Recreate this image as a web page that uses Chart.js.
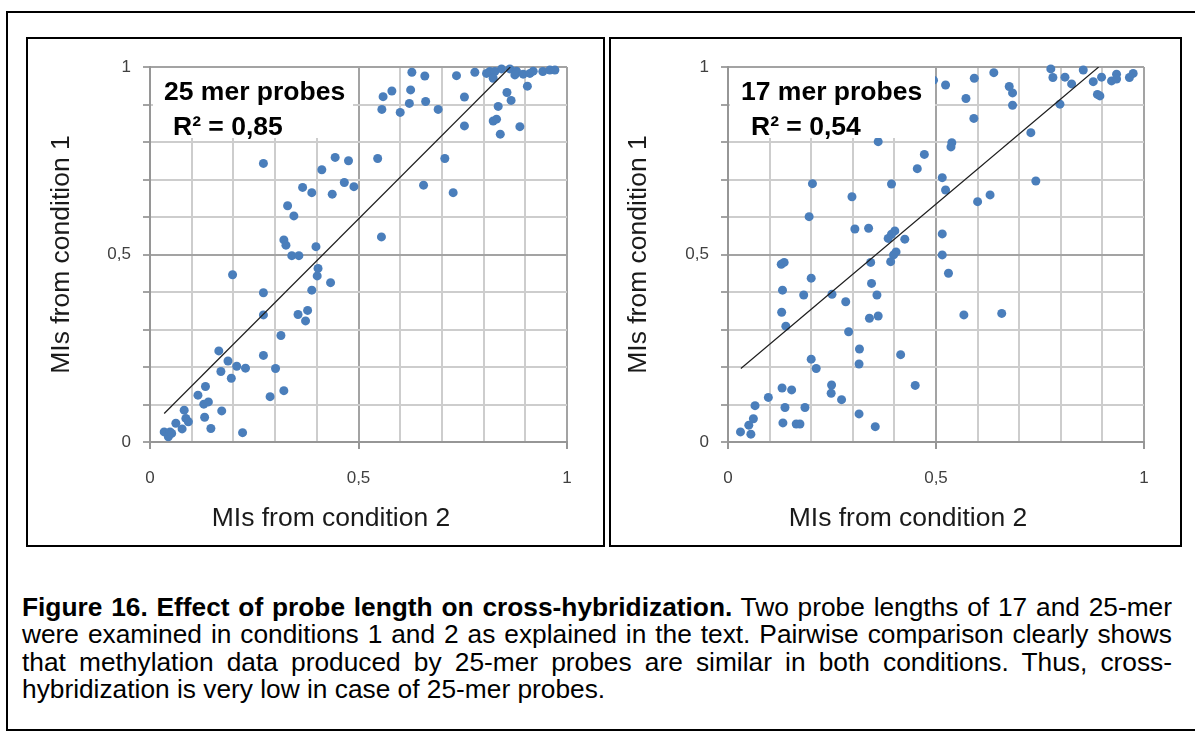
<!DOCTYPE html>
<html>
<head>
<meta charset="utf-8">
<script src="https://cdn.jsdelivr.net/npm/chart.js@4.4.1/dist/chart.umd.min.js"></script>
<style>
  html, body { margin: 0; padding: 0; background: #fff; }
  body { width: 1195px; height: 738px; position: relative; overflow: hidden;
         font-family: 'Liberation Sans', Arial, sans-serif; color: #000; }
  .frame { position: absolute; left: 6px; top: 11px; width: 1200px; height: 720px;
           border: 2px solid #000; box-sizing: border-box; }
  .box { position: absolute; top: 37px; height: 510px; border: 2px solid #000; box-sizing: border-box; }
  .box canvas { position: absolute; left: 0; top: 0; }
  .tag { position: absolute; top: 68px; height: 70px; width: 200px; background: #fff;
         font-weight: bold; font-size: 26.5px; line-height: 35px; padding-top: 6px; box-sizing: border-box; }
  .tag div { white-space: nowrap; }
  .caption { position: absolute; left: 22px; top: 594px; width: 1150px; font-size: 26.3px; line-height: 27.3px; }
  .caption .j { text-align: justify; text-align-last: justify; }
  .caption div { white-space: nowrap; }
  .caption .j { white-space: normal; }
</style>
</head>
<body>
<div class="frame"></div>
<div class="box" style="left:26px;width:579px;"><canvas id="c25" width="575" height="506"></canvas></div>
<div class="box" style="left:609px;width:573px;"><canvas id="c17" width="569" height="506"></canvas></div>

<div class="tag" style="left:153px;"><div style="padding-left:11px">25 mer probes</div><div style="padding-left:20px">R² = 0,85</div></div>
<div class="tag" style="left:730px;width:205px;"><div style="padding-left:11px">17 mer probes</div><div style="padding-left:21px">R² = 0,54</div></div>

<div class="caption">
  <div class="j"><b>Figure 16. Effect of probe length on cross-hybridization.</b> Two probe lengths of 17 and 25-mer</div>
  <div class="j">were examined in conditions 1 and 2 as explained in the text. Pairwise comparison clearly shows</div>
  <div class="j">that methylation data produced by 25-mer probes are similar in both conditions. Thus, cross-</div>
  <div>hybridization is very low in case of 25-mer probes.</div>
</div>

<script>
// 25-mer probes: MIs condition 2 (x) vs condition 1 (y)
var x25 = [0.408, 0.272, 0.444, 0.476, 0.412, 0.466, 0.489, 0.366, 0.388, 0.437,
           0.330, 0.345, 0.321, 0.326, 0.398, 0.340, 0.357, 0.198, 0.403, 0.401,
           0.433, 0.272, 0.388, 0.272, 0.355, 0.378, 0.373, 0.314, 0.165, 0.187,
           0.208, 0.229, 0.170, 0.195, 0.272, 0.301, 0.288, 0.321, 0.133, 0.115,
           0.129, 0.140, 0.082, 0.172, 0.131, 0.086, 0.092, 0.062, 0.077, 0.146,
           0.222, 0.034, 0.048, 0.044, 0.052, 0.628, 0.659, 0.735, 0.779, 0.807,
           0.815, 0.827, 0.843, 0.863, 0.879, 0.875, 0.895, 0.911, 0.919, 0.942,
           0.959, 0.971, 0.823, 0.905, 0.559, 0.580, 0.625, 0.622, 0.661, 0.556,
           0.600, 0.691, 0.754, 0.856, 0.866, 0.835, 0.823, 0.831, 0.840, 0.887,
           0.754, 0.546, 0.707, 0.656, 0.727, 0.555];
var y25 = [0.874, 0.743, 0.759, 0.750, 0.726, 0.692, 0.681, 0.679, 0.665, 0.661,
           0.630, 0.603, 0.539, 0.525, 0.521, 0.497, 0.497, 0.446, 0.463, 0.443,
           0.425, 0.398, 0.405, 0.339, 0.340, 0.351, 0.323, 0.284, 0.243, 0.216,
           0.202, 0.197, 0.188, 0.170, 0.231, 0.196, 0.121, 0.137, 0.148, 0.125,
           0.101, 0.107, 0.085, 0.083, 0.066, 0.063, 0.054, 0.050, 0.035, 0.036,
           0.025, 0.027, 0.027, 0.014, 0.023, 0.986, 0.976, 0.977, 0.986, 0.983,
           0.988, 0.988, 0.995, 0.995, 0.989, 0.979, 0.981, 0.983, 0.989, 0.988,
           0.992, 0.992, 0.970, 0.949, 0.921, 0.936, 0.939, 0.903, 0.908, 0.887,
           0.879, 0.887, 0.920, 0.932, 0.911, 0.895, 0.856, 0.861, 0.821, 0.841,
           0.843, 0.756, 0.756, 0.685, 0.665, 0.547];

// 17-mer probes
var x17 = [0.494, 0.345, 0.361, 0.472, 0.455, 0.203, 0.393, 0.298, 0.195, 0.305,
           0.338, 0.401, 0.393, 0.385, 0.425, 0.404, 0.523, 0.592, 0.639, 0.676,
           0.684, 0.572, 0.684, 0.591, 0.776, 0.781, 0.810, 0.826, 0.854, 0.878,
           0.898, 0.922, 0.934, 0.934, 0.965, 0.974, 0.888, 0.894, 0.798, 0.728,
           0.538, 0.536, 0.515, 0.523, 0.600, 0.630, 0.740, 0.515, 0.515, 0.530,
           0.567, 0.658, 0.398, 0.391, 0.128, 0.135, 0.200, 0.343, 0.345, 0.358,
           0.131, 0.182, 0.250, 0.283, 0.129, 0.139, 0.340, 0.361, 0.290, 0.316,
           0.315, 0.200, 0.212, 0.415, 0.450, 0.130, 0.153, 0.097, 0.249, 0.248,
           0.273, 0.065, 0.137, 0.185, 0.315, 0.061, 0.050, 0.132, 0.164, 0.173,
           0.354, 0.030, 0.055];
var y17 = [0.965, 0.829, 0.801, 0.767, 0.729, 0.689, 0.688, 0.654, 0.601, 0.568,
           0.570, 0.563, 0.554, 0.543, 0.541, 0.507, 0.952, 0.970, 0.985, 0.948,
           0.931, 0.916, 0.898, 0.863, 0.995, 0.972, 0.973, 0.955, 0.992, 0.961,
           0.973, 0.963, 0.981, 0.968, 0.972, 0.983, 0.927, 0.923, 0.901, 0.825,
           0.798, 0.787, 0.705, 0.672, 0.641, 0.659, 0.696, 0.555, 0.499, 0.450,
           0.339, 0.343, 0.499, 0.481, 0.474, 0.479, 0.437, 0.479, 0.423, 0.392,
           0.405, 0.392, 0.394, 0.374, 0.346, 0.309, 0.330, 0.336, 0.294, 0.248,
           0.208, 0.221, 0.196, 0.233, 0.151, 0.144, 0.139, 0.119, 0.152, 0.130,
           0.113, 0.097, 0.092, 0.092, 0.075, 0.062, 0.045, 0.051, 0.048, 0.048,
           0.041, 0.027, 0.021];

// linear trendline ends (as drawn, cut at the top of the axis)
var trend25X = [0.034, 0.864];
var trend25Y = [0.076, 1.0];
var trend17X = [0.031, 0.891];
var trend17Y = [0.196, 1.0];

var tickLabels = { '0': '0', '0.5': '0,5', '1': '1' };

var FONT = "'Liberation Sans', Arial, sans-serif";
var DOT = '#4a7ebb';
var MAJOR = '#a3a3a3';
var MINOR = '#cdcdcd';

function isMajor(v) {
  return Math.abs(v) < 1e-6 || Math.abs(v - 0.5) < 1e-6 || Math.abs(v - 1) < 1e-6;
}
function tickText(v) {
  var k = String(Math.round(v * 10) / 10);
  return tickLabels[k] !== undefined ? tickLabels[k] : '';
}
function gridColor(c) {
  var v = c.tick ? c.tick.value : 0;
  return isMajor(v) ? MAJOR : MINOR;
}

// padLeft / yWidth chosen so the plot sits where the reference has it
function makeChart(id, xs, ys, tx, ty, padLeft, yWidth) {
  var pts = xs.map(function(x, i) { return { x: x, y: ys[i] }; });
  var line = tx.map(function(x, i) { return { x: x, y: ty[i] }; });

  return new Chart(document.getElementById(id), {
    type: 'scatter',
    data: {
      datasets: [
        {
          type: 'line',
          data: line,
          borderColor: '#1e1e1e',
          borderWidth: 1.2,
          pointRadius: 0,
          fill: false
        },
        {
          data: pts,
          backgroundColor: DOT,
          borderWidth: 0,
          pointRadius: 4.5,
          pointHoverRadius: 4.5,
          clip: false
        }
      ]
    },
    options: {
      responsive: false,
      animation: false,
      events: [],
      layout: { padding: { left: padLeft, right: 36, top: 28, bottom: 0 } },
      plugins: {
        legend: { display: false },
        tooltip: { enabled: false },
        title: {
          display: true,
          position: 'bottom',
          text: 'MIs from condition 2',
          color: '#1a1a1a',
          font: { family: FONT, size: 26.5, weight: 'normal', lineHeight: 1.2 },
          padding: { top: 11.1, bottom: 10.1 }
        }
      },
      scales: {
        x: {
          type: 'linear', min: 0, max: 1,
          ticks: {
            stepSize: 0.1, autoSkip: false, maxRotation: 0, padding: 19,
            color: '#404040', font: { family: FONT, size: 17 },
            callback: function(v) { return tickText(v); }
          },
          grid: {
            color: gridColor,
            lineWidth: 2,
            tickLength: 7,
            tickColor: function(c) { return isMajor(c.tick.value) ? '#969696' : 'rgba(0,0,0,0)'; }
          },
          border: { color: '#969696', width: 2 },
          afterFit: function(s) { s.height = 50; }
        },
        y: {
          type: 'linear', min: 0, max: 1,
          ticks: {
            stepSize: 0.1, autoSkip: false, padding: 12,
            color: '#404040', font: { family: FONT, size: 17 },
            callback: function(v) { return tickText(v); }
          },
          grid: { color: gridColor, lineWidth: 2, tickLength: 7, tickColor: MAJOR },
          border: { color: '#969696', width: 2 },
          title: {
            display: true,
            text: 'MIs from condition 1',
            color: '#1a1a1a',
            font: { family: FONT, size: 26.5, lineHeight: 1.2 },
            padding: { top: -48.9, bottom: 0 }
          },
          afterFit: function(s) { s.width = yWidth; }
        }
      }
    }
  });
}

makeChart('c25', x25, y25, trend25X, trend25Y, 67, 55);
makeChart('c17', x17, y17, trend17X, trend17Y, 61, 56);
</script>
</body>
</html>
